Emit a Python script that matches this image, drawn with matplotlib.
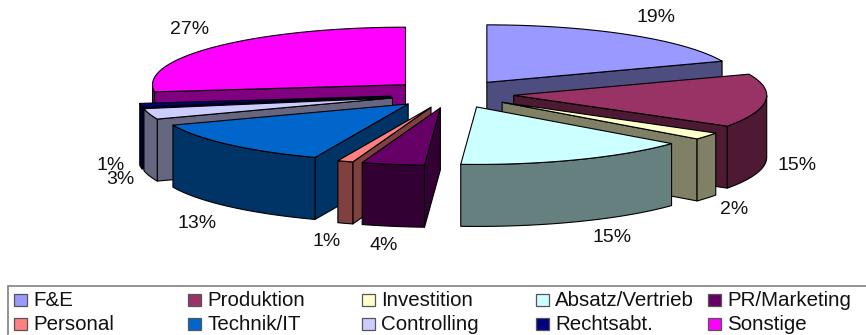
import numpy as np
import matplotlib
matplotlib.use("Agg")
import matplotlib.pyplot as plt
from matplotlib.patches import Polygon, Rectangle

categories = ["F&E", "Produktion", "Investition", "Absatz/Vertrieb", "PR/Marketing",
              "Personal", "Technik/IT", "Controlling", "Rechtsabt.", "Sonstige"]
shares = [19, 15, 2, 15, 4, 1, 13, 3, 1, 27]
top_colors = ["#9999FF", "#993366", "#FFFFCC", "#CCFFFF", "#660066",
              "#FF8080", "#0066CC", "#CCCCFF", "#000080", "#FF00FF"]
wall_colors = ["#4D4D80", "#4D1933", "#808066", "#668080", "#330033",
               "#804040", "#003366", "#666680", "#000040", "#800080"]
# Back-to-front painting sequence (indices into categories)
paint_order = [9, 0, 8, 7, 1, 6, 2, 5, 4, 3]
# Label anchors in canvas pixels
label_pos = [(656, 17), (797, 166), (734, 209), (612, 238), (384, 245),
             (327, 242), (197, 223), (120, 180), (111, 166), (190, 29)]

W, H = 866, 335
CX, CY = 452.0, 94.0       # pie centre on the canvas
RX, RY = 253.0, 57.5       # ellipse radii of the tilted pie
EXPLODE = 0.245            # slice offset as a fraction of the radius
DEPTH = 62.0               # wall height
FONT = "Liberation Sans"

fig = plt.figure(figsize=(W / 100, H / 100), dpi=100)
ax = fig.add_axes([0, 0, 1, 1])
ax.set_xlim(0, W)
ax.set_ylim(H, 0)
ax.axis("off")


def project(theta, radius, mid):
    """Canvas position of a point on an exploded slice; theta runs clockwise from 12 o'clock."""
    x = CX + EXPLODE * RX * np.sin(mid) + radius * RX * np.sin(theta)
    y = CY - EXPLODE * RY * np.cos(mid) - radius * RY * np.cos(theta)
    return np.column_stack([x, y])


def add_poly(pts, color, z):
    ax.add_patch(Polygon(pts, closed=True, facecolor=color, edgecolor="black",
                         linewidth=0.8, joinstyle="round", zorder=z))


edges = np.radians(np.concatenate([[0], np.cumsum(shares)]) * 3.6)
z = 1
for i in paint_order:
    t0, t1 = edges[i], edges[i + 1]
    mid = (t0 + t1) / 2
    arc = np.linspace(t0, t1, 80)
    apex = project(np.array([0.0]), 0.0, mid)
    rim = project(arc, 1.0, mid)
    drop = np.array([0, DEPTH])

    # radial walls that face the viewer
    if np.sin(t0) < 0:
        p = project(np.array([t0]), 1.0, mid)
        add_poly(np.vstack([apex, p, p + drop, apex + drop]), wall_colors[i], z)
    if np.sin(t1) > 0:
        p = project(np.array([t1]), 1.0, mid)
        add_poly(np.vstack([apex, p, p + drop, apex + drop]), wall_colors[i], z)
    # outer wall on the near half of the rim
    near = arc[np.cos(arc) < 0]
    if len(near) > 1:
        outer = project(near, 1.0, mid)
        add_poly(np.vstack([outer, (outer + drop)[::-1]]), wall_colors[i], z)
    # top face
    add_poly(np.vstack([apex, rim]), top_colors[i], z + 1)
    z += 2

for (lx, ly), share in zip(label_pos, shares):
    ax.text(lx, ly, f"{share}%", ha="center", va="center", fontsize=14,
            family=FONT, color="#111111", zorder=50)

# Legend frame and entries, laid out in two rows of five
ax.add_patch(Rectangle((8, 286), 900, 80, facecolor="white", edgecolor="#808080",
                       linewidth=1.2, zorder=60, clip_on=True))
col_x = [14, 188, 362, 536, 708]
row_y = [300, 324]
for k, name in enumerate(categories):
    x = col_x[k % 5]
    y = row_y[k // 5]
    ax.add_patch(Rectangle((x, y - 6.5), 12.5, 12.5, facecolor=top_colors[k], edgecolor="#555555",
                           linewidth=0.9, zorder=61))
    ax.text(x + 19, y, name, ha="left", va="center", fontsize=14.8, family=FONT,
            color="#111111", zorder=61)

fig.savefig("out.png", dpi=100, facecolor="white")
